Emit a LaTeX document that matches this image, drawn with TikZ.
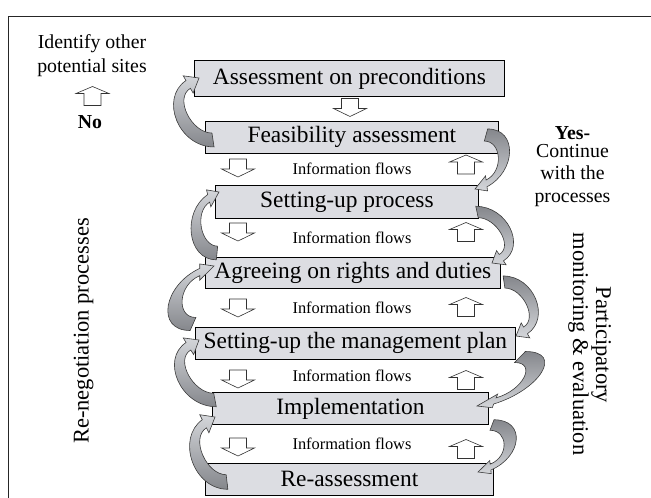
\documentclass[tikz,border=0pt]{standalone}
\usepackage{fontspec}
\setmainfont{Liberation Serif}
\definecolor{boxfill}{HTML}{DCDDE2}
\definecolor{arrlight}{HTML}{D4D6DA}
\definecolor{arrdark}{HTML}{85878C}
\definecolor{arredge}{HTML}{3C3C3C}
\newcommand{\curvpath}{(1,7) .. controls (-36,7) and (-55,-42) .. (-27.25,-59.9) -- (-30,-64.7) -- (-13.7,-62.5) -- (-20,-47.3) -- (-22.75,-52.1) .. controls (-40.1,-42.1) and (-22,-7) .. (-1,-7) -- cycle}
% left curved arrow: tail x, tail y, tip x, tip y, leftmost x
\newcommand{\LArr}[5]{%
  \pgfmathsetmacro{\arP}{(#3)-(#1)}%
  \pgfmathsetmacro{\arQ}{(#5)-(#1)}%
  \pgfmathsetmacro{\arA}{(-33*(\arP)+62.5*(\arQ))/(-2047.9)}%
  \pgfmathsetmacro{\armC}{(-13.7*(\arQ)+40*(\arP))/2047.9}%
  \pgfmathsetmacro{\arD}{((#2)-(#4))/62.5}%
  \begin{scope}[cm={\arA,0,\armC,\arD,(#1,#2)}]
    \shade[lcurve] \curvpath;
  \end{scope}}
% right curved arrow: tail x, tail y, tip x, tip y, rightmost x
\newcommand{\RArr}[5]{%
  \pgfmathsetmacro{\arP}{(#1)-(#3)}%
  \pgfmathsetmacro{\arQ}{(#1)-(#5)}%
  \pgfmathsetmacro{\armA}{(-33*(\arP)+62.5*(\arQ))/2047.9}%
  \pgfmathsetmacro{\arC}{(-13.7*(\arQ)+40*(\arP))/(-2047.9)}%
  \pgfmathsetmacro{\armD}{((#2)-(#4))/62.5}%
  \begin{scope}[cm={\armA,0,\arC,\armD,(#1,#2)}]
    \shade[rcurve] \curvpath;
  \end{scope}}
\begin{document}
\begin{tikzpicture}[x=1pt,y=-1pt,
  box/.style={draw=black, line width=0.8pt, fill=boxfill, inner sep=0pt, anchor=north west,
    font=\fontsize{23.4}{28}\selectfont},
  lcurve/.style={draw=arredge, line width=0.6pt, top color=arrlight, bottom color=arrdark},
  rcurve/.style={draw=arredge, line width=0.6pt, top color=arrdark, bottom color=arrlight},
  flow/.style={draw=black!80, line width=0.6pt, fill=white},
  info/.style={font=\fontsize{16.4}{19}\selectfont},
  side/.style={font=\fontsize{19.8}{24}\selectfont, anchor=base},
  vert/.style={font=\fontsize{22.5}{26}\selectfont, anchor=base},
  dnarrow/.pic={\path[flow] (-8.5,-9) -- (8.5,-9) -- (8.5,1) -- (16.5,1) -- (0,9) -- (-16.5,1) -- (-8.5,1) -- cycle;},
  uparrow/.pic={\path[flow] (0,-9.5) -- (16.5,-2.5) -- (8.5,-2.5) -- (8.5,9.5) -- (-8.5,9.5) -- (-8.5,-2.5) -- (-16.5,-2.5) -- cycle;}
]
\useasboundingbox (0,0) rectangle (651,498);
% frame
\draw[line width=0.9pt, black!85] (8,498) -- (8,16) -- (651,16);

% boxes
\node[box, minimum width=310pt, minimum height=36pt] (b1) at (194,60) {Assessment on preconditions};
\node[box, minimum width=293pt, minimum height=32pt] (b2) at (205,121) {Feasibility assessment};
\node[box, minimum width=263pt, minimum height=33pt] (b3) at (215,185) {Setting-up process};
\node[box, minimum width=295pt, minimum height=31pt] (b4) at (205,257) {Agreeing on rights and duties};
\node[box, minimum width=320pt, minimum height=32pt] (b5) at (195,327) {Setting-up the management plan};
\node[box, minimum width=276pt, minimum height=32pt] (b6) at (212,392) {Implementation};
\node[box, minimum width=288pt, minimum height=32pt] (b7) at (205,463) {Re-assessment};

% small flow arrows
\pic (d1) at (350,107.5) {dnarrow};
\pic (d2) at (238,168) {dnarrow};
\pic (d3) at (238,232) {dnarrow};
\pic (d4) at (238,308) {dnarrow};
\pic (d5) at (238,379) {dnarrow};
\pic (d6) at (238,447) {dnarrow};
\pic (u2) at (466,164.5) {uparrow};
\pic (u3) at (466,232) {uparrow};
\pic (u4) at (466,307) {uparrow};
\pic (u5) at (466,380) {uparrow};
\pic (u6) at (466,449) {uparrow};
\pic (u0) at (92.5,96) {uparrow};

% information flows labels
\node[info] (i2) at (352,169) {Information flows};
\node[info] (i3) at (352,237.5) {Information flows};
\node[info] (i4) at (352,307.5) {Information flows};
\node[info] (i5) at (352,375.5) {Information flows};
\node[info] (i6) at (352,443.5) {Information flows};

% curved arrows (left: lower box to upper box)
\LArr{213}{140}{199}{78}{174}
\LArr{217}{253}{219}{192}{192}
\LArr{193}{324}{214}{266}{173}
\LArr{215}{400}{199}{340}{175}
\LArr{227}{482}{215}{417}{190}
% curved arrows (right: upper box to lower box)
\RArr{486}{135}{475}{189}{507}
\RArr{477}{212}{492}{263}{513}
\RArr{504}{282}{516}{336}{538}
\RArr{520}{357}{477}{406}{532}
\RArr{492}{425}{478}{472}{513}

% side texts
\node[side] (t1) at (92,48) {Identify other};
\node[side] (t2) at (92,72) {potential sites};
\node[side, font=\fontsize{19.8}{24}\selectfont\bfseries] (t3) at (90,128) {No};
\node[side, font=\fontsize{19.8}{24}\selectfont\bfseries] (y1) at (572.5,139) {Yes-};
\node[side] (y2) at (572.5,157) {Continue};
\node[side] (y3) at (572.5,179) {with the};
\node[side] (y4) at (572.5,202) {processes};
\node[vert, rotate=90] (r1) at (88.5,331) {Re-negotiation processes};
\node[vert, rotate=-90] (p1) at (596,345) {Participatory};
\node[vert, rotate=-90] (p2) at (573,344) {monitoring \& evaluation};
\end{tikzpicture}
\end{document}
